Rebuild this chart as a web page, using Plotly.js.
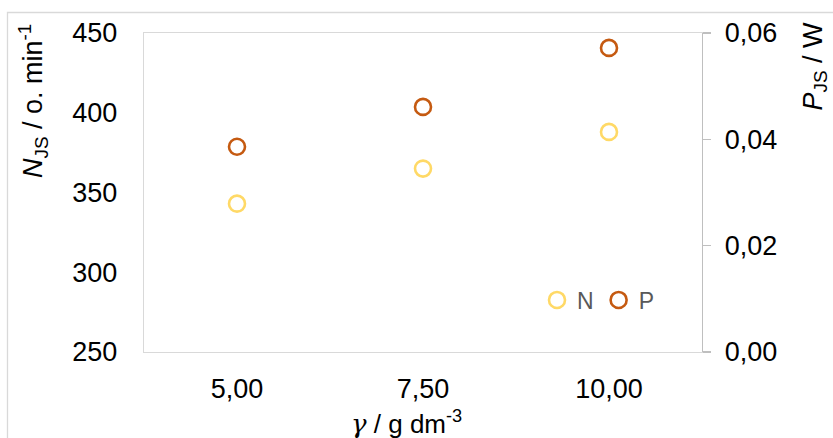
<!DOCTYPE html>
<html>
<head>
<meta charset="utf-8">
<script src="https://cdn.plot.ly/plotly-3.0.1.min.js"></script>
<style>
html,body{margin:0;padding:0;background:#fff;overflow:hidden;}
#chart{width:833px;height:438px;}
</style>
</head>
<body>
<div id="chart"></div>
<script>
// Data
var categories = ['5,00', '7,50', '10,00'];
var nValues = [343, 365, 388];          // N_JS / o. min-1 (left axis)
var pValues = [0.0386, 0.0461, 0.0572]; // P_JS / W (right axis)
var leftTicks = [250, 300, 350, 400, 450];
var rightTicks = [0, 0.02, 0.04, 0.06];
var rightTickText = ['0,00', '0,02', '0,04', '0,06'];

var W = 833, H = 438;
var L = 144, R = 131, T = 33, B = 86;
var pw = W - L - R, ph = H - T - B;
function px(x){ return (x - L) / pw; }
function py(y){ return (H - B - y) / ph; }

var font = 'Liberation Sans, Arial, sans-serif';
var fs = 27;

var traces = [
  {
    x: categories, y: nValues, name: 'N', type: 'scatter', mode: 'markers',
    marker: {symbol: 'circle-open', size: 16, color: '#FFD966', line: {width: 2.6, color: '#FFD966'}},
    yaxis: 'y'
  },
  {
    x: categories, y: pValues, name: 'P', type: 'scatter', mode: 'markers',
    marker: {symbol: 'circle-open', size: 16, color: '#C55A11', line: {width: 2.6, color: '#C55A11'}},
    yaxis: 'y2'
  }
];

var layout = {
  width: W, height: H,
  margin: {l: L, r: R, t: T, b: B, pad: 0},
  paper_bgcolor: '#ffffff', plot_bgcolor: '#ffffff',
  separators: ',.',
  font: {family: font, size: fs, color: '#000000'},
  showlegend: true,
  legend: {
    orientation: 'h', x: px(537), y: py(300), xanchor: 'left', yanchor: 'middle',
    font: {family: font, size: 23, color: '#595959'}, bgcolor: 'rgba(0,0,0,0)',
    itemwidth: 30, tracegroupgap: 0
  },
  xaxis: {
    type: 'category', range: [-0.5, 2.5], showgrid: false, zeroline: false,
    showline: true, linecolor: '#d9d9d9', linewidth: 1.3, mirror: true,
    ticks: '', ticklabelstandoff: 12,
    tickfont: {family: font, size: fs, color: '#000'}
  },
  yaxis: {
    range: [250, 450], tickvals: leftTicks, showgrid: false, zeroline: false,
    showline: true, linecolor: '#d9d9d9', linewidth: 1.3,
    ticks: '', ticklabelstandoff: 20,
    tickfont: {family: font, size: fs, color: '#000'}
  },
  yaxis2: {
    overlaying: 'y', side: 'right', range: [0, 0.06],
    tickvals: rightTicks, ticktext: rightTickText,
    showgrid: false, zeroline: false,
    showline: true, linecolor: '#bfbfbf', linewidth: 1.3,
    ticks: 'outside', ticklen: 8, tickcolor: '#bfbfbf', tickwidth: 1.3,
    ticklabelstandoff: 8,
    tickfont: {family: font, size: fs, color: '#000'}
  },
  shapes: [
    {type: 'rect', xref: 'paper', yref: 'paper',
     x0: px(7.5), x1: px(900), y0: py(520), y1: py(12.5),
     line: {color: '#d9d9d9', width: 1.3}, fillcolor: 'rgba(0,0,0,0)', layer: 'below'}
  ],
  annotations: [
    {xref: 'paper', yref: 'paper', x: px(33), y: py(22), xanchor: 'center', yanchor: 'top',
     textangle: -90, showarrow: false,
     text: '<i>N</i><sub>JS</sub> / o. min<sup>-1</sup>',
     font: {family: font, size: fs, color: '#000'}},
    {xref: 'paper', yref: 'paper', x: px(815), y: py(20), xanchor: 'center', yanchor: 'top',
     textangle: -90, showarrow: false,
     text: '<i>P</i><sub>JS</sub> / W',
     font: {family: font, size: fs, color: '#000'}},
    {xref: 'paper', yref: 'paper', x: px(406), y: py(404), xanchor: 'center', yanchor: 'top',
     showarrow: false,
     text: '<i><span style="font-family:DejaVu Serif, serif">γ</span></i> / g dm<sup>-3</sup>',
     font: {family: font, size: 26, color: '#000'}}
  ]
};

Plotly.newPlot('chart', traces, layout, {displayModeBar: false, staticPlot: true});
</script>
</body>
</html>
